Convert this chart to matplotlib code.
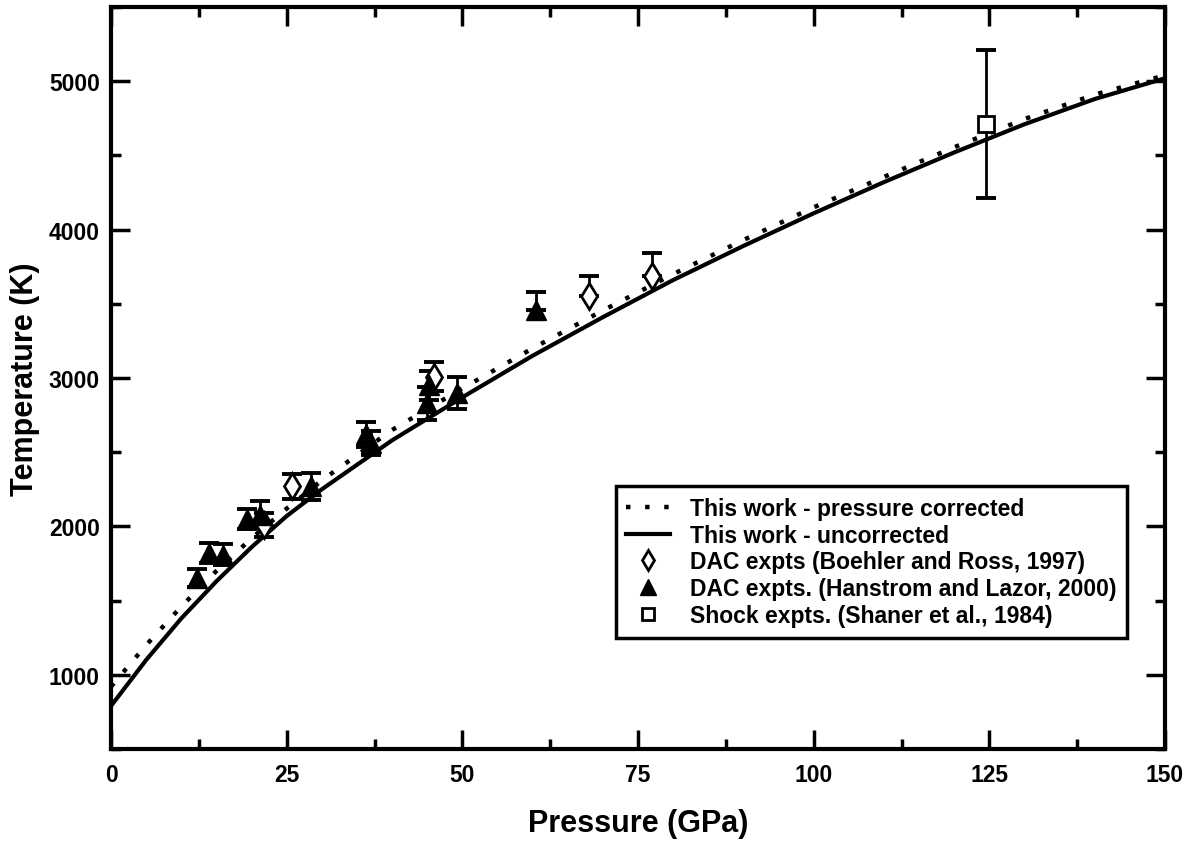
import numpy as np
import matplotlib.pyplot as plt
from matplotlib.ticker import MultipleLocator

plt.rcParams['font.family'] = ['Liberation Sans', 'DejaVu Sans']
plt.rcParams['font.weight'] = 'bold'

# this work: melting curves
p_curve = [0, 5, 10, 15, 20, 25, 30, 40, 50, 60, 70, 80, 90, 100, 110, 120, 130, 140, 150]
t_uncorr = [790, 1100, 1380, 1630, 1860, 2070, 2250, 2580, 2870, 3150, 3410, 3660,
            3890, 4110, 4320, 4520, 4710, 4880, 5020]
t_corr = [920, 1200, 1460, 1700, 1920, 2120, 2310, 2650, 2930, 3200, 3455, 3700,
          3930, 4150, 4355, 4555, 4745, 4910, 5040]

# DAC expts (Hanstrom and Lazor, 2000)
p_hl = [12.2, 14.0, 16.0, 19.3, 21.2, 28.5, 36.3, 37.0, 45.0, 45.3, 49.3, 60.5]
t_hl = [1650, 1820, 1810, 2050, 2080, 2270, 2620, 2560, 2830, 2950, 2900, 3460]
err_hl_lo = [60, 70, 70, 70, 90, 90, 85, 80, 110, 100, 110, 0]
err_hl_hi = [60, 70, 70, 70, 90, 90, 85, 80, 110, 100, 110, 120]

# DAC expts (Boehler and Ross, 1997)
p_br = [21.8, 25.8, 46.0, 68.0, 77.0]
t_br = [2010, 2270, 3010, 3550, 3690]
err_br_lo = [80, 85, 100, 0, 0]
err_br_hi = [80, 85, 100, 140, 150]

# Shock expts (Shaner et al., 1984)
p_sh = [124.5]
t_sh = [4710]
err_sh = [500]

fig = plt.figure(figsize=(11.95, 8.54), dpi=100)
ax = fig.add_axes([0.0929, 0.1218, 0.882, 0.8688])

ax.plot(p_curve, t_corr, color='black', lw=3.2, linestyle=(0, (1, 3.3)),
        label='This work - pressure corrected')
ax.plot(p_curve, t_uncorr, color='black', lw=3,
        label='This work - uncorrected')

ekw = dict(fmt='none', ecolor='black', elinewidth=2, capsize=7, capthick=2.8)
ax.errorbar(p_br, t_br, yerr=[err_br_lo, err_br_hi], **ekw)
ax.errorbar(p_hl, t_hl, yerr=[err_hl_lo, err_hl_hi], **ekw)
ax.errorbar(p_sh, t_sh, yerr=err_sh, **ekw)

ax.plot(p_br, t_br, 'd', ms=13, mfc='white', mec='black', mew=2,
        label='DAC expts (Boehler and Ross, 1997)')
ax.plot(p_hl, t_hl, '^', ms=14, mfc='black', mec='black',
        label='DAC expts. (Hanstrom and Lazor, 2000)')
ax.plot(p_sh, t_sh, 's', ms=11, mfc='white', mec='black', mew=2,
        label='Shock expts. (Shaner et al., 1984)')

ax.set_xlim(0, 150)
ax.set_ylim(500, 5500)
ax.xaxis.set_major_locator(MultipleLocator(25))
ax.xaxis.set_minor_locator(MultipleLocator(12.5))
ax.yaxis.set_major_locator(MultipleLocator(1000))
ax.yaxis.set_minor_locator(MultipleLocator(500))
ax.set_yticks([1000, 2000, 3000, 4000, 5000])

ax.tick_params(which='both', direction='in', top=True, right=True, width=2.5)
ax.tick_params(which='major', length=14, labelsize=16.5)
ax.tick_params(axis='y', which='major', pad=8)
ax.tick_params(axis='x', which='major', pad=10)
ax.tick_params(which='minor', length=7)
for s in ax.spines.values():
    s.set_linewidth(3)

ax.set_xlabel('Pressure (GPa)', fontsize=22, fontweight='bold', labelpad=16)
ax.set_ylabel('Temperature (K)', fontsize=22, fontweight='bold', labelpad=6)

leg = ax.legend(loc='upper left', bbox_to_anchor=(0.479, 0.354), fontsize=16.5,
                frameon=True, fancybox=False, edgecolor='black', framealpha=1,
                handlelength=1.9, handletextpad=0.9, labelspacing=0.17,
                borderpad=0.45, borderaxespad=0, markerscale=0.8)
leg.get_frame().set_linewidth(2.5)

fig.savefig('out.png', dpi=100)
